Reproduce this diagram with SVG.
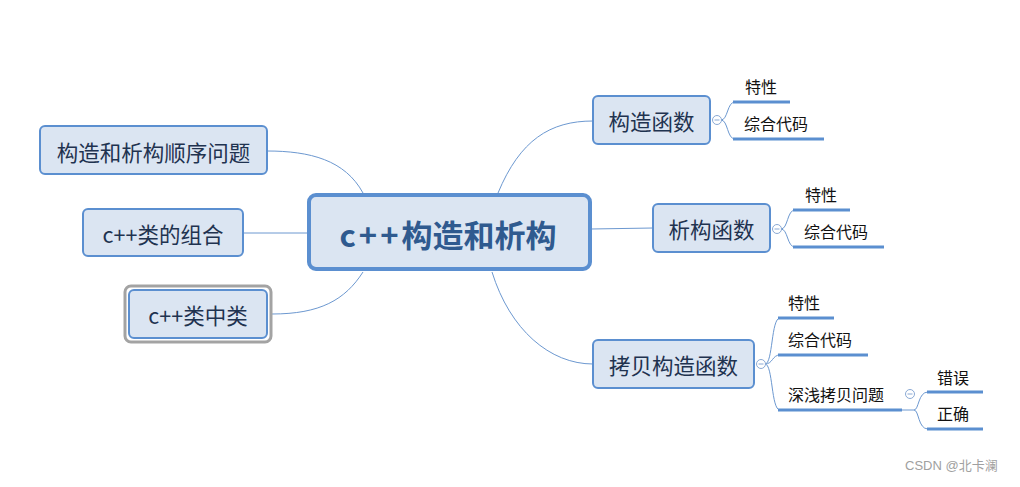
<svg xmlns="http://www.w3.org/2000/svg" width="1020" height="487" viewBox="0 0 1020 487">
<style>
.node{fill:#dbe5f2;stroke:#5b8fd0;stroke-width:2}
.nt{font-family:"Noto Sans CJK SC","Liberation Sans",sans-serif;font-size:21.5px;fill:#1f3350;text-anchor:middle;dominant-baseline:central}
.ct{font-family:"Noto Sans CJK SC","Liberation Sans",sans-serif;font-size:16px;fill:#111;dominant-baseline:central}
.conn{fill:none;stroke:#6c98d0;stroke-width:1}
.ul{stroke:#5b8fd0;stroke-width:3;fill:none}
.col{fill:#fff;stroke:#8aa9d4;stroke-width:1}
</style>
<rect width="1020" height="487" fill="#fff"/>
<g id="connectors">
<path class="conn" d="M498,193 C520,140 550,121 593,121"/>
<path class="conn" d="M591,229 L653,228"/>
<path class="conn" d="M492,272 C510,330 550,364 593,364"/>
<path class="conn" d="M363,193 C345,160 310,151 267,151"/>
<path class="conn" d="M243,233 L308,233"/>
<path class="conn" d="M363,272 C345,300 320,314 272,314"/>
<path class="conn" d="M721,120 C728,120 727,102 735,102 M721,120 C728,120 727,139 735,139"/>
<path class="conn" d="M781,229 C788,229 787,210 795,210 M781,229 C788,229 787,247 795,247"/>
<path class="conn" d="M765,364 C773,364 771,318 780,318 M765,364 C773,364 772,355 780,355 M765,364 C773,364 771,410 780,410"/>
<path class="conn" d="M902,410 L914,410 C919,410 918,392 928,392 M914,410 C919,410 918,429 928,429"/>
</g>
<g id="center">
<rect x="309" y="195" width="281" height="74" rx="7" fill="#dbe5f2" stroke="#5b8fd0" stroke-width="4"/>
<text x="448" y="233" font-family="Noto Sans CJK SC,Liberation Sans,sans-serif" font-size="31" font-weight="bold" fill="#2f5a8f" text-anchor="middle" dominant-baseline="central"><tspan letter-spacing="3">c++</tspan>构造和析构</text>
</g>
<g id="n-gouzao">
<rect class="node" x="593" y="96" width="117" height="48" rx="5"/>
<text class="nt" x="651.5" y="120">构造函数</text>
<circle class="col" cx="717" cy="120" r="4.5"/><line x1="714.5" y1="120" x2="719.5" y2="120" stroke="#8aa9d4"/>
<text class="ct" x="745" y="86">特性</text>
<line class="ul" x1="733" y1="102" x2="790" y2="102"/>
<text class="ct" x="744" y="123">综合代码</text>
<line class="ul" x1="733" y1="139" x2="824" y2="139"/>
</g>
<g id="n-xigou">
<rect class="node" x="653" y="204" width="117" height="48" rx="5"/>
<text class="nt" x="711.5" y="228">析构函数</text>
<circle class="col" cx="777" cy="229" r="4.5"/><line x1="774.5" y1="229" x2="779.5" y2="229" stroke="#8aa9d4"/>
<text class="ct" x="805" y="194">特性</text>
<line class="ul" x1="793" y1="210" x2="850" y2="210"/>
<text class="ct" x="804" y="231">综合代码</text>
<line class="ul" x1="793" y1="247" x2="884" y2="247"/>
</g>
<g id="n-kaobei">
<rect class="node" x="593" y="340" width="161" height="48" rx="5"/>
<text class="nt" x="673.5" y="364">拷贝构造函数</text>
<circle class="col" cx="761" cy="364" r="4.5"/><line x1="758.5" y1="364" x2="763.5" y2="364" stroke="#8aa9d4"/>
<text class="ct" x="788" y="302">特性</text>
<line class="ul" x1="778" y1="318" x2="834" y2="318"/>
<text class="ct" x="788" y="339">综合代码</text>
<line class="ul" x1="778" y1="355" x2="868" y2="355"/>
<text class="ct" x="788" y="394">深浅拷贝问题</text>
<line class="ul" x1="778" y1="410" x2="902" y2="410"/>
<circle class="col" cx="910" cy="394" r="4.5"/><line x1="907.5" y1="394" x2="912.5" y2="394" stroke="#8aa9d4"/>
<text class="ct" x="937" y="377">错误</text>
<line class="ul" x1="927" y1="392" x2="983" y2="392"/>
<text class="ct" x="937" y="413">正确</text>
<line class="ul" x1="927" y1="429" x2="983" y2="429"/>
</g>
<g id="n-shunxu">
<rect class="node" x="40" y="126" width="227" height="48" rx="5"/>
<text class="nt" x="153.5" y="151">构造和析构顺序问题</text>
</g>
<g id="n-zuhe">
<rect class="node" x="83" y="209" width="160" height="47" rx="5"/>
<text class="nt" x="163" y="233">c++类的组合</text>
</g>
<g id="n-leizhonglei">
<rect x="125" y="286" width="146" height="56" rx="6" fill="none" stroke="#a3a3a3" stroke-width="3"/>
<rect class="node" x="129" y="290" width="138" height="48" rx="5"/>
<text class="nt" x="198" y="314">c++类中类</text>
</g>
<text x="905" y="470" font-family="Liberation Sans,Noto Sans CJK SC,sans-serif" font-size="13" fill="#a0a0a0">CSDN @北卡澜</text>
</svg>
